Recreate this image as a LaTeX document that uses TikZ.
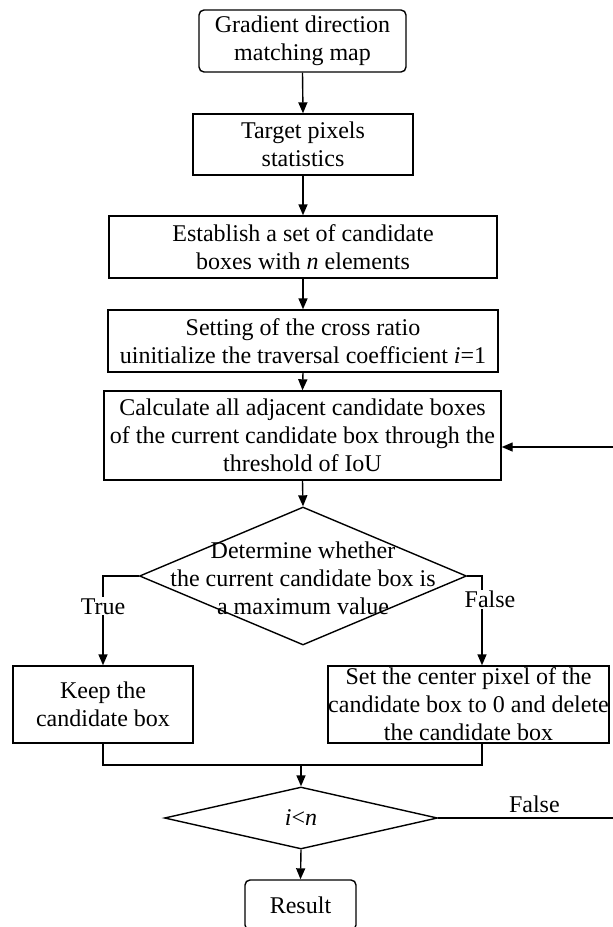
\documentclass[tikz,border=0pt]{standalone}
\usepackage{fontspec}
\setmainfont{Liberation Serif}
\usetikzlibrary{shapes.geometric,arrows.meta}
\begin{document}
\begin{tikzpicture}[x=1pt,y=-1pt,line width=1.4pt,
    every node/.style={font=\fontsize{24}{28}\selectfont},
    procbox/.style={draw,align=center,inner sep=2pt},
    termbox/.style={procbox,rounded corners=5pt},
    decision/.style={draw,diamond,inner sep=0pt},
    flow/.style={-{Triangle[length=11pt,width=9pt]}},
    tag/.style={fill=white,inner sep=1pt}]
    \useasboundingbox (0,0) rectangle (613,927);

    % main column
    \node[termbox, minimum width=207pt, minimum height=62pt] (map) at (302.5,41) {Gradient direction\\matching map};
    \node[procbox, minimum width=220pt, minimum height=61pt] (stats) at (303,144.5) {Target pixels\\statistics};
    \node[procbox, minimum width=388pt, minimum height=62pt] (cand) at (303,247) {Establish a set of candidate\\boxes with \textit{n} elements};
    \node[procbox, minimum width=390pt, minimum height=62pt] (init) at (303,341) {Setting of the cross ratio\\uinitialize the traversal coefficient \textit{i}=1};
    \node[procbox, minimum width=397pt, minimum height=89pt] (calc) at (302.5,435.5) {Calculate all adjacent candidate boxes\\of the current candidate box through the\\threshold of IoU};

    \node[decision, minimum width=327pt, minimum height=138pt] (ismax) at (303,576) {};
    \node[align=center] (ismaxtext) at (303,578) {Determine whether\\the current candidate box is\\a maximum value};

    % branches
    \node[procbox, minimum width=180pt, minimum height=77pt] (keep) at (103,704.5) {Keep the\\candidate box};
    \node[procbox, inner sep=0pt, minimum width=281pt, minimum height=77pt] (del) at (468.5,704.5) {Set the center pixel of the\\candidate box to 0 and delete\\the candidate box};

    \node[decision, minimum width=273pt, minimum height=62pt] (loop) at (301,818) {};
    \node (looptext) at (loop) {\textit{i}<\textit{n}};
    \node[termbox, minimum width=111pt, minimum height=50pt] (res) at (300.5,905) {Result};

    \coordinate (join) at (301,765);
    \coordinate (back) at (613,818);
    \coordinate (ret) at (613,447);

    % connectors
    \draw[flow] (map.south) -- (stats.north);
    \draw[flow] (stats.south) -- (cand.north);
    \draw[flow] (cand.south) -- (init.north);
    \draw[flow] (init.south) -- (calc.north);
    \draw[flow] (calc.south) -- (ismax.north);

    \draw[flow] (ismax.west) -| node[tag, pos=0.67] {True} (keep.north);
    \draw[flow] (ismax.east) -| node[tag, pos=0.63, xshift=8pt] {False} ([xshift=13.5pt]del.north);

    \draw (keep.south) |- (join);
    \draw ([xshift=13.5pt]del.south) |- (join);
    \draw[flow] (join) -- (loop.north);

    \draw (loop.east) -- node[above=1pt, pos=0.55] {False} (back);
    \draw[flow] (ret) -- (calc.east |- ret);
    \draw[flow] (loop.south) -- (res.north);
\end{tikzpicture}
\end{document}
